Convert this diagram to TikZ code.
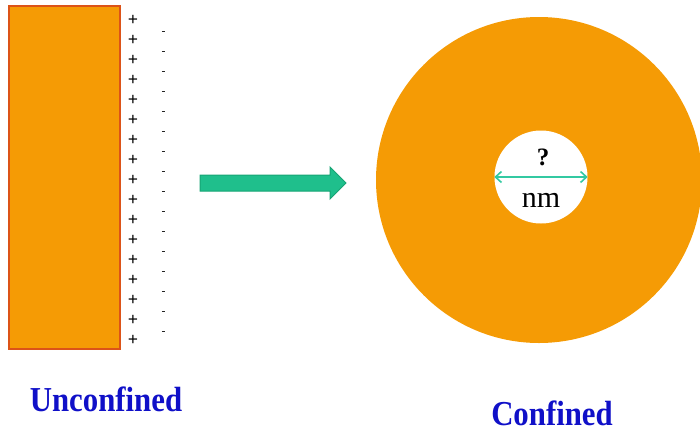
\documentclass[tikz,border=0pt]{standalone}
\usepackage{fontspec}
\setmainfont{Liberation Serif}
\usetikzlibrary{arrows.meta}
\definecolor{orng}{HTML}{F59B05}
\definecolor{orngedge}{HTML}{DC5318}
\definecolor{grn}{HTML}{1FBF8C}
\definecolor{grnedge}{HTML}{17A474}
\definecolor{dimc}{HTML}{33C9A2}
\definecolor{lblue}{HTML}{1010C8}
\tikzset{
  plussign/.style={inner sep=0pt, font=\fontsize{18}{18}\selectfont\bfseries},
  minussign/.style={line width=0.6pt, black!85},
  label/.style={inner sep=0pt, text=lblue, font=\fontsize{35}{35}\selectfont\bfseries, xscale=0.88},
}
\begin{document}
\begin{tikzpicture}[x=1pt,y=-1pt]
\useasboundingbox (0,0) rectangle (700,434);
% slab
\node[draw=orngedge, line width=1.5pt, fill=orng, minimum width=111pt, minimum height=343pt, inner sep=0pt, anchor=north west] (slab) at (8,5) {};
% charges
\foreach \i in {0,...,16} {
  \node[plussign] (p\i) at (133,{20+20*\i}) {+};
}
\foreach \i in {0,...,15} {
  \draw[minussign] (161.8,{31+20*\i}) -- (164.8,{31+20*\i});
}
% block arrow
\fill[grn, draw=grnedge, line width=1pt] (200,175) -- (330,175) -- (330,167) -- (346,183) -- (330,199) -- (330,191) -- (200,191) -- cycle;
% confined
\clip (0,0) rectangle (700,434);
\fill[orng] (539,180) circle (163);
\node[circle, fill=white, minimum size=93pt, inner sep=0pt] (pore) at (541,177) {};
\draw[dimc, line width=1.6pt, {Straight Barb[length=6pt,width=11pt]}-{Straight Barb[length=6pt,width=11pt]}] (pore.west) -- (pore.east);
\node[inner sep=0pt, font=\fontsize{25}{25}\selectfont\bfseries] (q) at (543,157) {?};
\node[inner sep=0pt, font=\fontsize{30}{30}\selectfont] (nm) at (541,200) {nm};
% labels
\node[label] (unc) at (106,399) {Unconfined};
\node[label] (conf) at (552,413) {Confined};
\end{tikzpicture}
\end{document}
